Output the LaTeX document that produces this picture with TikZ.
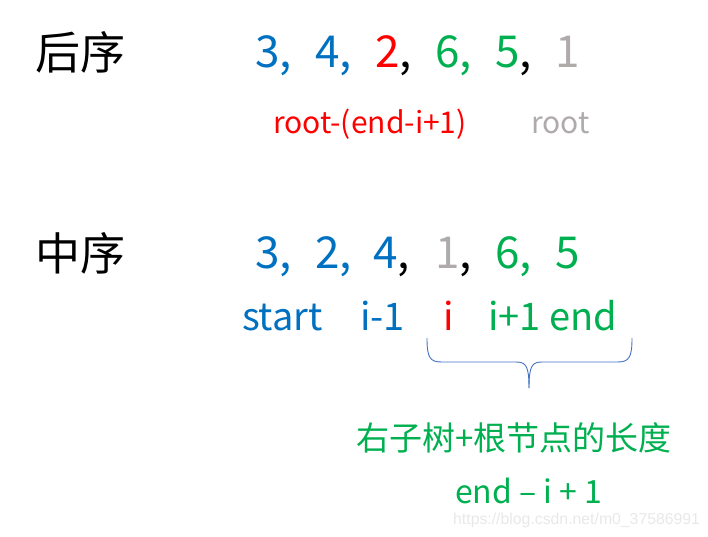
\documentclass[tikz,border=0pt]{standalone}
\usepackage{fontspec}
\setmainfont{Noto Sans CJK SC}
\newfontfamily\markfont{Liberation Sans}
\usetikzlibrary{positioning}

\definecolor{seqblue}{RGB}{0,112,192}
\definecolor{seqred}{RGB}{255,0,0}
\definecolor{seqgreen}{RGB}{0,176,80}
\definecolor{seqgray}{RGB}{175,171,171}
\definecolor{bracecol}{RGB}{68,114,196}
\definecolor{markgray}{RGB}{232,232,232}

\tikzset{
    title/.style={inner sep=0pt, outer sep=0pt, font=\fontsize{45}{50}\selectfont},
    num/.style={inner sep=0pt, outer sep=0pt, anchor=base west, font=\fontsize{44}{50}\selectfont},
    idx/.style={inner sep=0pt, outer sep=0pt, anchor=base west, font=\fontsize{38}{44}\selectfont},
    note/.style={inner sep=0pt, outer sep=0pt, anchor=base west, font=\fontsize{30}{34}\selectfont},
    bracket/.style={draw=bracecol, line width=0.9pt}
}

\begin{document}
\begin{tikzpicture}[x=1pt, y=-1pt]
        \useasboundingbox (0,0) rectangle (708,537);

        %%% Post-order
            % Title
            \node[title] (postTitle) at (80,52) {后序};

            % Sequence, one node per value
            \node[num, text=seqblue]  (post1) at (255,68) {3,};
            \node[num, text=seqblue]  (post2) at (315,68) {4,};
            \node[num, text=seqred]   (post3) at (375,68) {2\textcolor{black}{,}};
            \node[num, text=seqgreen] (post4) at (435,68) {6,};
            \node[num, text=seqgreen] (post5) at (495,68) {5\textcolor{black}{,}};
            \node[num, text=seqgray]  (post6) at (555,68) {1};

            % Index notes
            \node[note, text=seqred]  (postLeft) at (273,134) {root-(end-i+1)};
            \node[note, text=seqgray] (postRoot) at (531,134) {root};

        %%% In-order
            % Title
            \node[title] (inTitle) at (80,253) {中序};

            % Sequence, one node per value
            \node[num, text=seqblue]  (in1) at (255,268) {3,};
            \node[num, text=seqblue]  (in2) at (315,268) {2,};
            \node[num, text=seqblue]  (in3) at (373,268) {4\textcolor{black}{,}};
            \node[num, text=seqgray]  (in4) at (435,268) {1\textcolor{black}{,}};
            \node[num, text=seqgreen] (in5) at (495,268) {6,};
            \node[num, text=seqgreen] (in6) at (555,268) {5};

            % Index names
            \node[idx, text=seqblue]  (inStart) at (242,330) {start};
            \node[idx, text=seqblue]  (inPrev)  at (360,330) {i-1};
            \node[idx, text=seqred]   (inRoot)  at (443,330) {i};
            \node[idx, text=seqgreen] (inEnd)   at (488,330) {i+1 end};

        %%% Brace under the right part
            \coordinate (braceLeft)  at (427,338);
            \coordinate (braceRight) at (632,338);
            \coordinate (braceTip)   at (529,388);
            \draw[bracket] (braceLeft) .. controls (427,358) and (430,362) .. (442,362) -- (516,362)
                .. controls (526,362) and (529,366) .. (braceTip); % Left half
            \draw[bracket] (braceRight) .. controls (632,358) and (629,362) .. (617,362) -- (542,362)
                .. controls (532,362) and (529,366) .. (braceTip); % Right half

        %%% Length of the right part
            \node[inner sep=0pt, text=seqgreen, font=\fontsize{33}{38}\selectfont] (lenText) at (514,438) {右子树+根节点的长度};
            \node[note, text=seqgreen, font=\fontsize{32}{36}\selectfont] (lenFormula) at (455,503) {end – i + 1};

        %%% Watermark
            \node[inner sep=0pt, anchor=base west, text=markgray, font=\markfont\fontsize{15.8}{19}\selectfont] (mark) at (453,524) {https://blog.csdn.net/m0\_37586991};
\end{tikzpicture}
\end{document}
